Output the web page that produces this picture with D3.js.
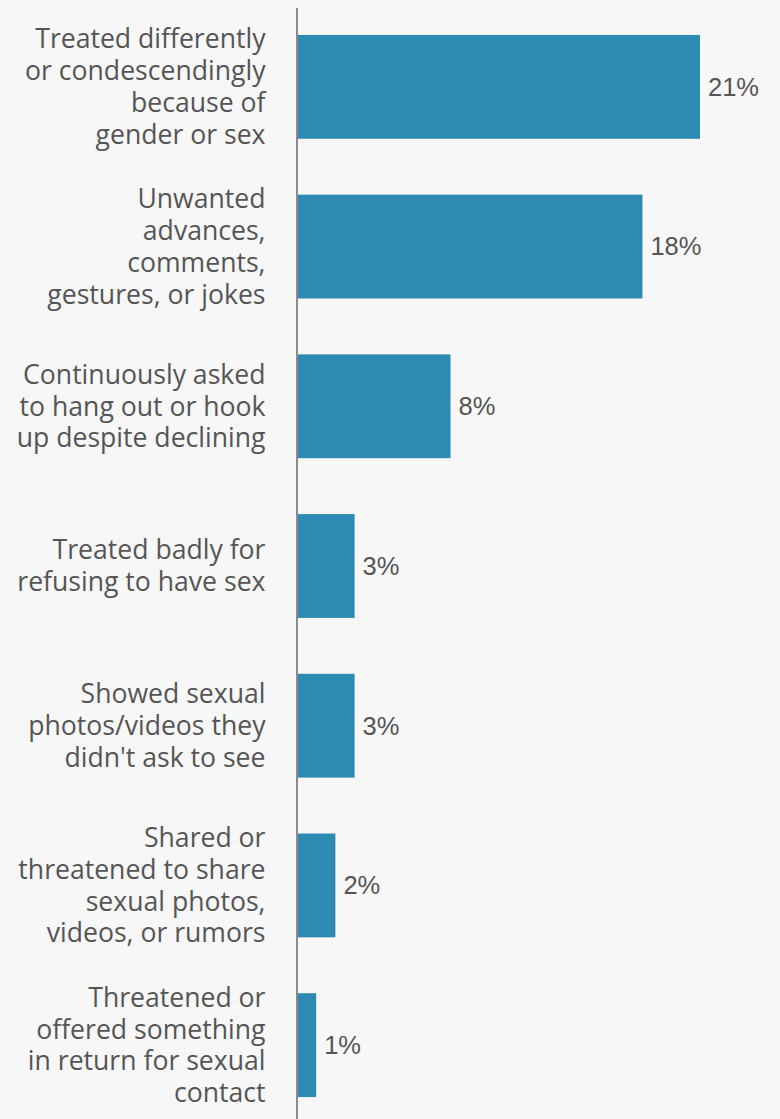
<!DOCTYPE html>
<html>
<head>
<meta charset="utf-8">
<script src="https://cdn.jsdelivr.net/npm/d3@7"></script>
<style>
  html, body { margin: 0; padding: 0; background: #f7f7f7; }
  svg { display: block; }
</style>
</head>
<body>
<svg id="chart" width="780" height="1119"></svg>
<script>
// Share of respondents reporting each experience
const categories = [
  "Treated differently\nor condescendingly\nbecause of\ngender or sex",
  "Unwanted\nadvances,\ncomments,\ngestures, or jokes",
  "Continuously asked\nto hang out or hook\nup despite declining",
  "Treated badly for\nrefusing to have sex",
  "Showed sexual\nphotos/videos they\ndidn't ask to see",
  "Shared or\nthreatened to share\nsexual photos,\nvideos, or rumors",
  "Threatened or\noffered something\nin return for sexual\ncontact"
];
const values = [21, 18, 8, 3, 3, 2, 1];
const valueLabels = ["21%", "18%", "8%", "3%", "3%", "2%", "1%"];

const svg = d3.select("#chart");
const width = 780, height = 1119;

const x0 = 297;
const x = d3.scaleLinear().domain([0, 21]).range([x0, 700]);
const y = d3.scaleBand()
  .domain(categories)
  .range([7, 1125])
  .paddingInner(0.35)
  .paddingOuter(0.175);

svg.append("rect").attr("width", width).attr("height", height).attr("fill", "#f7f7f7");

// bars
svg.selectAll("rect.bar")
  .data(values)
  .join("rect")
  .attr("class", "bar")
  .attr("x", x(0))
  .attr("y", (d, i) => y(categories[i]))
  .attr("width", d => x(d) - x(0))
  .attr("height", y.bandwidth())
  .attr("fill", "#2d8ab2");

// vertical baseline
svg.append("line")
  .attr("x1", x(0)).attr("x2", x(0))
  .attr("y1", 8).attr("y2", height)
  .attr("stroke", "#8a8a8a").attr("stroke-width", 2);

// value labels
svg.selectAll("text.value")
  .data(values)
  .join("text")
  .attr("class", "value")
  .attr("x", d => x(d) + 8)
  .attr("y", (d, i) => y(categories[i]) + y.bandwidth() / 2)
  .attr("dy", "0.35em")
  .attr("font-family", "'Liberation Sans', Arial, sans-serif")
  .attr("font-size", 25.5)
  .attr("fill", "#555555")
  .text((d, i) => valueLabels[i]);

// category labels, one tspan per line, centred on the bar
const lineH = 31.8;
svg.selectAll("text.cat")
  .data(categories)
  .join("text")
  .attr("class", "cat")
  .attr("text-anchor", "end")
  .attr("font-family", "'Open Sans', sans-serif")
  .attr("font-size", 26.6)
  .attr("fill", "#555555")
  .each(function (d) {
    const lines = d.split("\n");
    const cy = y(d) + y.bandwidth() / 2;
    const t = d3.select(this);
    lines.forEach((ln, k) => {
      t.append("tspan")
        .attr("x", 265.5)
        .attr("y", cy + (k - (lines.length - 1) / 2) * lineH)
        .attr("dy", "0.35em")
        .text(ln);
    });
  });
</script>
</body>
</html>
